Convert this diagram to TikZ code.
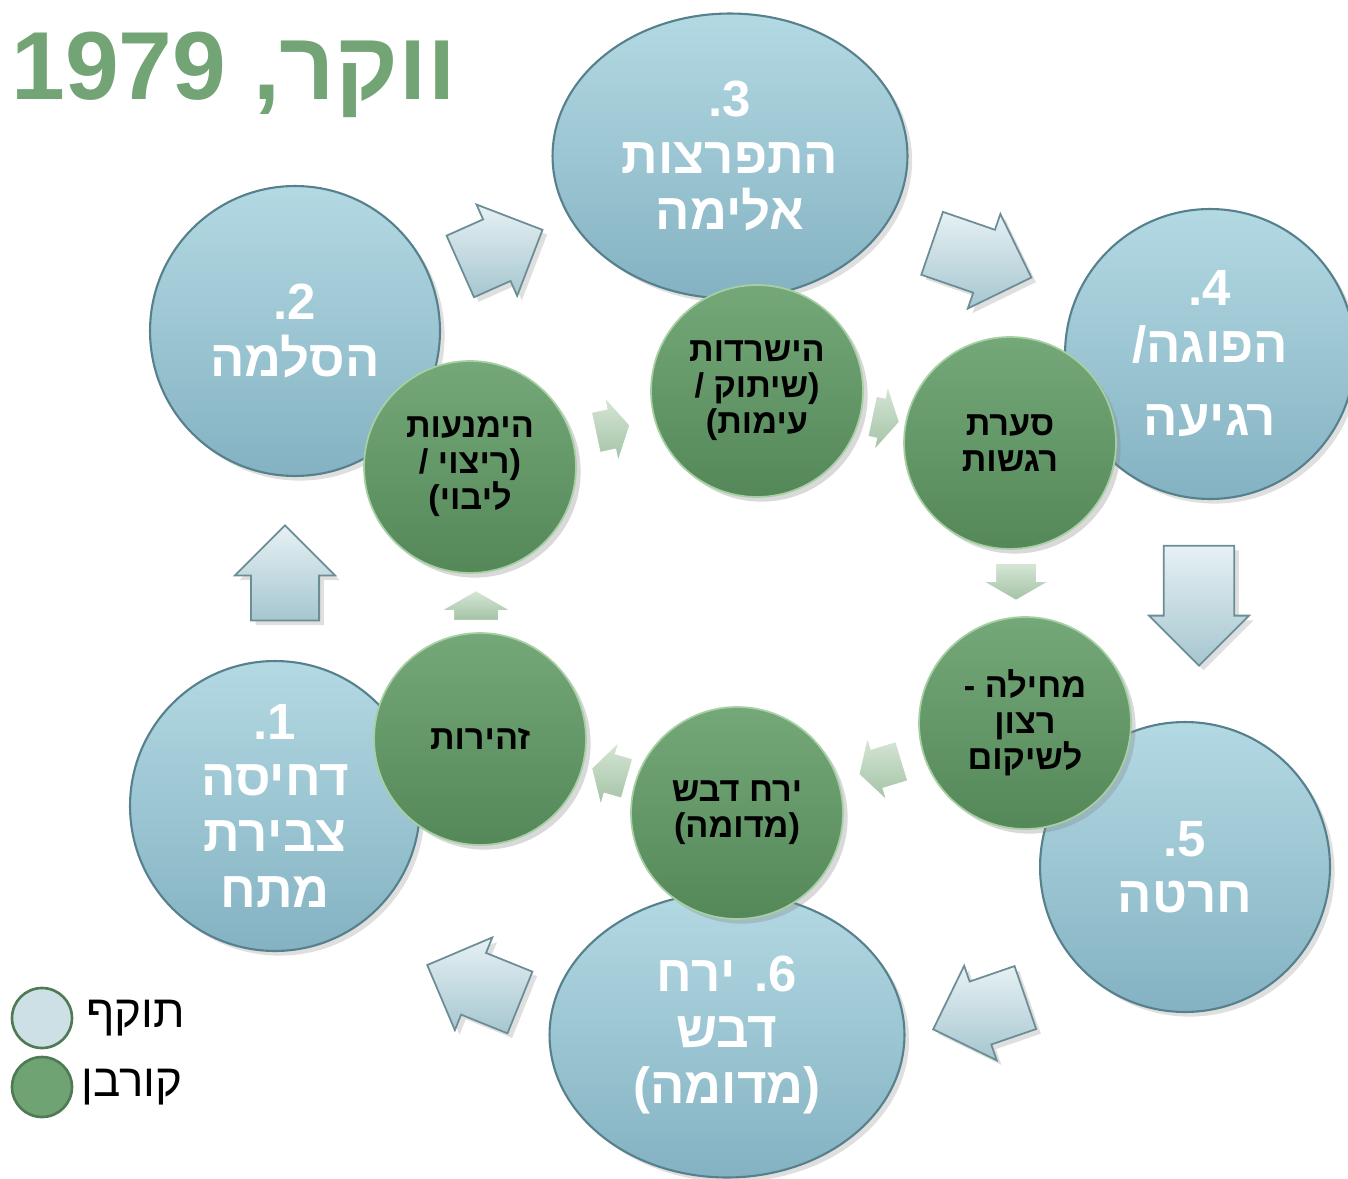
\documentclass[tikz,border=0pt]{standalone}
\usepackage{fontspec}
\setmainfont{Liberation Sans}
\newfontfamily\hebfont[Script=Hebrew]{Liberation Sans}
\TeXXeTstate=1
\usetikzlibrary{positioning,shapes.geometric,shapes.arrows,shadows}

\definecolor{bluetop}{HTML}{B3D9E3}
\definecolor{bluebot}{HTML}{84B2C2}
\definecolor{blueedge}{HTML}{56808C}
\definecolor{greentop}{HTML}{74A878}
\definecolor{greenbot}{HTML}{558858}
\definecolor{greenedge}{HTML}{A6CFA4}
\definecolor{titlegreen}{HTML}{72A476}
\definecolor{arrowtop}{HTML}{E6F1F4}
\definecolor{arrowbot}{HTML}{A6C6CF}
\definecolor{arrowedge}{HTML}{6C8D95}
\definecolor{smalltop}{HTML}{D6E6D6}
\definecolor{smallbot}{HTML}{A3C2A5}
\definecolor{legendblue}{HTML}{CCE0E6}
\definecolor{legendedge}{HTML}{4E7B54}

\newcommand{\heb}[1]{\beginR #1\endR}

\tikzset{
  stage/.style={circle,minimum size=5.8cm,inner sep=0pt,
    top color=bluetop,bottom color=bluebot,draw=blueedge,line width=1.2pt,
    drop shadow={opacity=.25},text=white,align=center,
    font=\hebfont\bfseries\fontsize{29}{32}\selectfont},
  widestage/.style={stage,ellipse,minimum width=7.1cm,minimum height=5.7cm},
  victim/.style={circle,minimum size=4.24cm,inner sep=0pt,
    top color=greentop,bottom color=greenbot,draw=greenedge,line width=1pt,
    drop shadow={opacity=.3},text=black,align=center,
    font=\hebfont\bfseries\fontsize{19.5}{20.5}\selectfont},
  bigarrow/.style={single arrow,inner xsep=0pt,inner ysep=.52cm,
    minimum height=2cm,minimum width=2cm,
    top color=arrowtop,bottom color=arrowbot,draw=arrowedge,line width=1pt,
    drop shadow={opacity=.25}},
  smallarrow/.style={single arrow,inner xsep=0pt,inner ysep=.4cm,
    minimum height=.7cm,minimum width=1.3cm,single arrow tip angle=120,
    top color=smalltop,bottom color=smallbot,draw=white,line width=.6pt},
  legenddot/.style={circle,minimum size=1.2cm,inner sep=0pt,draw=legendedge,line width=1.5pt},
  legendtext/.style={inner sep=0pt,font=\hebfont\fontsize{26}{28}\selectfont}
}

\begin{document}
\begin{tikzpicture}[x=0.02cm,y=-0.02cm]
\useasboundingbox (0,0) rectangle (1348,1179);

% title
\node[anchor=base west,inner sep=0pt,text=titlegreen,
  font=\hebfont\bfseries\fontsize{55}{60}\selectfont] (title) at (11,100)
  {\heb{ווקר, \beginL1979\endL}};

% stages (offender)
\node[stage] (s1) at (275,806) {\heb{1.}\\\heb{דחיסה}\\\heb{צבירת}\\\heb{מתח}};
\node[stage] (s2) at (295,331) {\heb{2.}\\\heb{הסלמה}};
\node[widestage] (s3) at (730,156) {\heb{3.}\\\heb{התפרצות}\\\heb{אלימה}};
\node[stage] (s4) at (1210,354) {\heb{4.}\\\heb{הפוגה/}\\[10pt]\heb{רגיעה}};
\node[stage] (s5) at (1185,867) {\heb{5.}\\\heb{חרטה}};
\node[widestage] (s6) at (727,1035) {\heb{6. ירח}\\\heb{דבש}\\\heb{(מדומה)}};

% big arrows between stages
\node[bigarrow,rotate=90,minimum height=1.9cm] (a12) at (285,590) {};
\node[bigarrow,rotate=24,minimum height=1.8cm,inner ysep=.5cm] (a23) at (486,255) {};
\node[bigarrow,rotate=-19,minimum height=2.1cm,inner ysep=.48cm] (a34) at (966,255) {};
\node[bigarrow,rotate=-90,minimum height=2.4cm,inner ysep=.58cm] (a45) at (1199,588) {};
\node[bigarrow,rotate=199,minimum height=1.95cm,inner ysep=.48cm] (a56) at (995,1008) {};
\node[bigarrow,rotate=158,minimum height=2cm,inner ysep=.48cm] (a61) at (489,990) {};

% victim circles
\node[victim] (v1) at (470,467) {\heb{הימנעות}\\\heb{(ריצוי /}\\\heb{ליבוי)}};
\node[victim] (v2) at (757,391) {\heb{הישרדות}\\\heb{(שיתוק /}\\\heb{עימות)}};
\node[victim] (v3) at (1010,443) {\heb{סערת}\\\heb{רגשות}};
\node[victim] (v4) at (1025,723) {\heb{מחילה -}\\\heb{רצון}\\\heb{לשיקום}};
\node[victim] (v5) at (737,813) {\heb{ירח דבש}\\\heb{(מדומה)}};
\node[victim] (v6) at (480,739) {\heb{זהירות}};

% small arrows between victim circles
\node[smallarrow,rotate=90,minimum height=.6cm,minimum width=1.4cm,inner ysep=.44cm] (b61) at (476,612) {};
\node[smallarrow,rotate=12] (b12) at (607,430) {};
\node[smallarrow,rotate=-12,minimum height=.56cm] (b23) at (880,418) {};
\node[smallarrow,rotate=-90,minimum height=.74cm] (b34) at (1016,576) {};
\node[smallarrow,rotate=197,minimum height=.9cm] (b45) at (886,766) {};
\node[smallarrow,rotate=164,minimum height=.74cm,minimum width=1.2cm] (b56) at (615,775) {};

% legend
\node[legenddot,fill=legendblue] (legA) at (42,1018) {};
\node[legenddot,fill=greentop!85!greenbot] (legB) at (42,1087) {};
\node[legendtext,right=0.25cm of legA] (legAtext) {\heb{תוקף}};
\node[legendtext,right=0.15cm of legB] (legBtext) {\heb{קורבן}};
\end{tikzpicture}
\end{document}
